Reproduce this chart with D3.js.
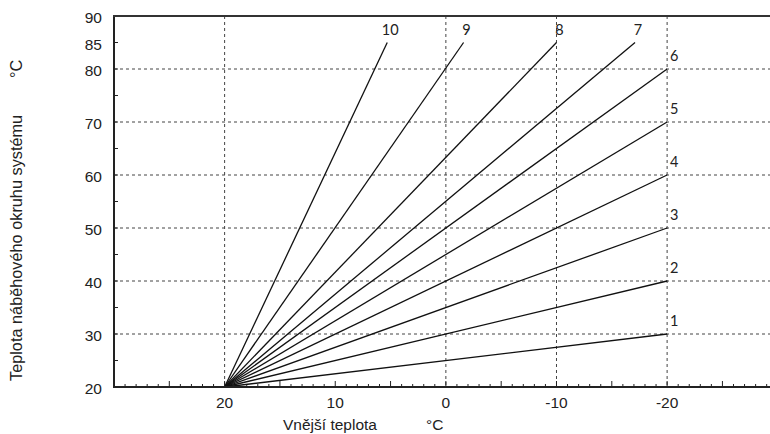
<!DOCTYPE html>
<html><head><meta charset="utf-8">
<script src="https://cdn.jsdelivr.net/npm/d3@7"></script>
<style>body{margin:0;background:#fff}svg{display:block}</style>
</head><body><svg id="c" width="770" height="434"></svg>
<script>
// Data
const curveIds = ["1","2","3","4","5","6","7","8","9","10"];
const startOut = 20, startFlow = 20;
const endOut = [-20, -20, -20, -20, -20, -20, -17.1, -10, -1.6, 5.3];
const endFlow = [30, 40, 50, 60, 70, 80, 85, 85, 85, 85];
const yTickVals = [90, 85, 80, 70, 60, 50, 40, 30, 20];
const yGridVals = [30, 40, 50, 60, 70, 80];
const xTickVals = [20, 10, 0, -10, -20];
const xGridVals = [20, 0, -10, -20];
const yTitle = "Teplota náběhového okruhu systému";
const xTitle = "Vnější teplota";
const unit = "°C";

const svg = d3.select("#c");
const L = 114, R = 770, T = 16, B = 387;
const x = d3.scaleLinear().domain([30, -29.3]).range([L, R]);
const y = d3.scaleLinear().domain([20, 90]).range([B, T]);
const numFont = "Lato, 'Open Sans', sans-serif";
const txtFont = "'Liberation Sans', Arial, sans-serif";

// grid
svg.append("g").selectAll("line").data(yGridVals).join("line")
  .attr("x1", L).attr("x2", R).attr("y1", d => y(d)).attr("y2", d => y(d))
  .attr("stroke", "#444").attr("stroke-width", 1).attr("stroke-dasharray", "3,3");
svg.append("g").selectAll("line").data(xGridVals).join("line")
  .attr("x1", d => x(d)).attr("x2", d => x(d)).attr("y1", T).attr("y2", B)
  .attr("stroke", "#444").attr("stroke-width", 1).attr("stroke-dasharray", "3,3");

// x minor ticks
const xMinor = d3.range(-29, 30, 1);
svg.append("g").selectAll("line").data(xMinor).join("line")
  .attr("x1", d => x(d)).attr("x2", d => x(d)).attr("y1", B)
  .attr("y2", d => B - (d % 5 === 0 ? 6 : 3))
  .attr("stroke", "#222").attr("stroke-width", 1);
// y minor ticks
const yMinor = d3.range(25, 90, 5);
svg.append("g").selectAll("line").data(yMinor).join("line")
  .attr("x1", L).attr("x2", L + 4).attr("y1", d => y(d)).attr("y2", d => y(d))
  .attr("stroke", "#222").attr("stroke-width", 1);

// curves
svg.append("g").selectAll("line").data(curveIds).join("line")
  .attr("x1", x(startOut)).attr("y1", y(startFlow))
  .attr("x2", (d, i) => x(endOut[i])).attr("y2", (d, i) => y(endFlow[i]))
  .attr("stroke", "#111").attr("stroke-width", 1.3);

// curve labels
svg.append("g").selectAll("text").data(curveIds).join("text")
  .attr("x", (d, i) => x(endOut[i]) + 3)
  .attr("y", (d, i) => y(endFlow[i]) - 8)
  .attr("text-anchor", (d, i) => endFlow[i] === 85 ? "middle" : "start")
  .attr("font-family", numFont).attr("font-size", 14.5).attr("fill", "#222")
  .text(d => d);

// axes frame
svg.append("line").attr("x1", L).attr("x2", L).attr("y1", T - 1).attr("y2", B + 1)
  .attr("stroke", "#222").attr("stroke-width", 2);
svg.append("line").attr("x1", L - 1).attr("x2", R).attr("y1", B).attr("y2", B)
  .attr("stroke", "#222").attr("stroke-width", 2);
svg.append("line").attr("x1", L - 1).attr("x2", R).attr("y1", T).attr("y2", T)
  .attr("stroke", "#333").attr("stroke-width", 2.2);

// y tick labels
svg.append("g").selectAll("text").data(yTickVals).join("text")
  .attr("x", 102).attr("y", d => y(d) + 7)
  .attr("text-anchor", "end").attr("font-family", txtFont).attr("font-size", 15.5).attr("fill", "#222")
  .text(d => d);
// x tick labels
svg.append("g").selectAll("text").data(xTickVals).join("text")
  .attr("x", d => x(d)).attr("y", 408)
  .attr("text-anchor", "middle").attr("font-family", txtFont).attr("font-size", 15.5).attr("fill", "#222")
  .text(d => d);

// titles
svg.append("text").attr("x", 283).attr("y", 430).attr("font-family", txtFont).attr("font-size", 15.5)
  .attr("fill", "#222").text(xTitle);
svg.append("text").attr("x", 426).attr("y", 430).attr("font-family", txtFont).attr("font-size", 15.5)
  .attr("fill", "#222").text(unit);
svg.append("text").attr("transform", "translate(22,381) rotate(-90)").attr("font-family", txtFont)
  .attr("font-size", 16.3).attr("fill", "#222").text(yTitle);
svg.append("text").attr("transform", "translate(22,78) rotate(-90)").attr("font-family", txtFont)
  .attr("font-size", 16.3).attr("fill", "#222").text(unit);
</script></body></html>
